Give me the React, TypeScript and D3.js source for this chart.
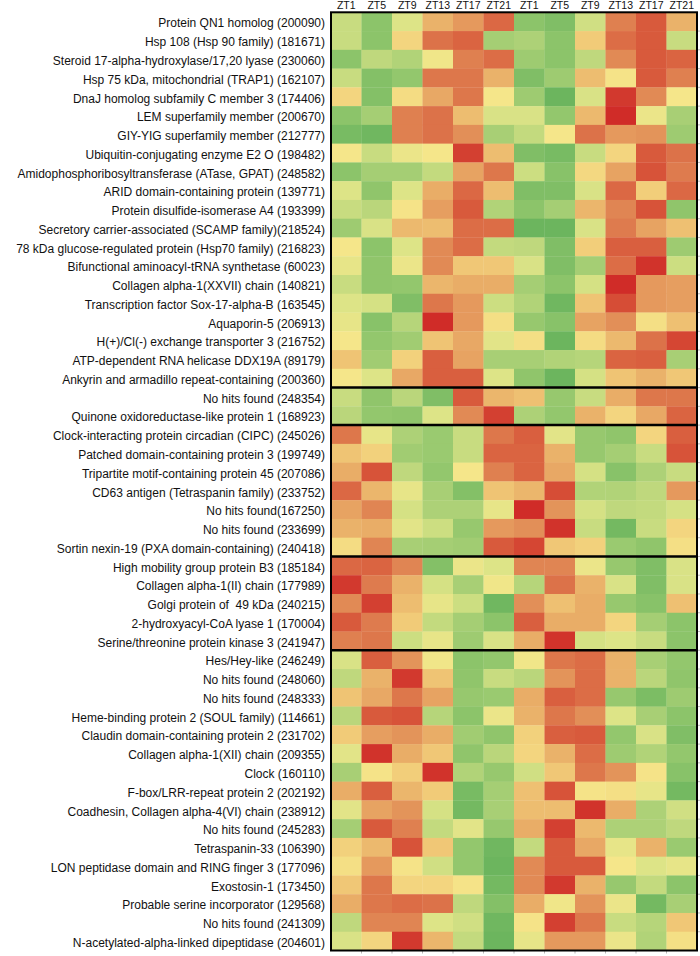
import React, { useEffect, useRef } from 'react';
import * as d3 from 'd3';

const columns = ['ZT1', 'ZT5', 'ZT9', 'ZT13', 'ZT17', 'ZT21', 'ZT1', 'ZT5', 'ZT9', 'ZT13', 'ZT17', 'ZT21'];

// expression level: ~1.5 = dark green, 5 = yellow, 9 = red
const group1Genes = [
  'Protein QN1 homolog (200090)',
  'Hsp 108 (Hsp 90 family) (181671)',
  'Steroid 17-alpha-hydroxylase/17,20 lyase (230060)',
  'Hsp 75 kDa, mitochondrial (TRAP1) (162107)',
  'DnaJ homolog subfamily C member 3 (174406)',
  'LEM superfamily member (200670)',
  'GIY-YIG superfamily member (212777)',
  'Ubiquitin-conjugating enzyme E2 O (198482)',
  'Amidophosphoribosyltransferase (ATase, GPAT) (248582)',
  'ARID domain-containing protein (139771)',
  'Protein disulfide-isomerase A4 (193399)',
  'Secretory carrier-associated (SCAMP family)(218524)',
  '78 kDa glucose-regulated protein (Hsp70 family) (216823)',
  'Bifunctional aminoacyl-tRNA synthetase (60023)',
  'Collagen alpha-1(XXVII) chain (140821)',
  'Transcription factor Sox-17-alpha-B (163545)',
  'Aquaporin-5 (206913)',
  'H(+)/Cl(-) exchange transporter 3 (216752)',
  'ATP-dependent RNA helicase DDX19A (89179)',
  'Ankyrin and armadillo repeat-containing (200360)',
];
const group1Values = [
  [4, 2.5, 4.5, 6.5, 7, 8, 2.5, 2.2, 4.2, 7.5, 8.3, 6.5],
  [4, 2.5, 5.5, 7.8, 8.1, 3.2, 3.4, 2.5, 5.8, 7.9, 8.3, 4],
  [2.5, 3.8, 3.5, 4.9, 7.5, 7.9, 3, 2.5, 3.8, 7.3, 8.3, 8.1],
  [4, 2.3, 2.7, 7.7, 7.7, 6.5, 2.2, 3, 6.2, 5.1, 8.3, 7.5],
  [5.5, 2.3, 5.3, 6.7, 7.7, 5, 3, 1.7, 4.4, 8.8, 7.3, 5],
  [2.5, 3.2, 7.5, 7.8, 6.2, 4.4, 4.4, 2.7, 6.3, 9, 4.8, 3.3],
  [2, 1.8, 7.5, 7.8, 7.2, 3.3, 3.9, 5, 7.8, 7, 7.1, 3],
  [5, 4, 4.8, 5, 8.7, 6.2, 2.2, 2, 4, 5.5, 8.3, 7.8],
  [2.5, 3.2, 3.2, 3.9, 6.8, 7.7, 4.1, 2.4, 5.4, 6.8, 8.4, 7.6],
  [4.5, 2.6, 4.5, 6.6, 8, 6.2, 2.2, 2.2, 4.4, 8, 5.7, 8],
  [4, 3.7, 5.1, 6.9, 8.3, 3.5, 2.5, 3.2, 6.4, 7.4, 8.4, 2.6],
  [3, 4.4, 6.3, 6.2, 7.9, 7.9, 1.7, 1.7, 4.4, 7.6, 6.8, 6.1],
  [5, 2.5, 4.5, 7.3, 7.9, 3.9, 3.8, 2.2, 5.7, 8.2, 8.2, 3],
  [4.7, 2.6, 4.8, 7.3, 5.9, 5.9, 4.4, 2.2, 3.2, 7.9, 8.9, 4.1],
  [4, 2.6, 2.7, 6.4, 6.6, 6.6, 3.2, 2.5, 4.3, 9, 7, 6.9],
  [4.5, 4.3, 2.2, 7.7, 7, 4.1, 3.5, 1.8, 6, 8.5, 7, 6.9],
  [4.7, 2.4, 3.6, 9, 7, 5.2, 2.8, 2.4, 6.8, 7.2, 5.2, 6.1],
  [5, 2.7, 3.1, 6, 6.7, 4.6, 5.2, 1.7, 5.3, 6.3, 7.8, 8.6],
  [6, 3.1, 5.6, 8.2, 6.8, 3.3, 3.3, 3.5, 3.6, 8.1, 8.2, 3.3],
  [5, 4.5, 6.7, 8.2, 8.2, 4.5, 2.6, 1.5, 4.3, 6, 6.5, 5.9],
];

const group2Genes = ['No hits found (248354)', 'Quinone oxidoreductase-like protein 1 (168923)'];
const group2Values = [
  [4, 2.6, 3.7, 2.2, 8.3, 6.4, 6.1, 2.8, 4, 6.6, 7.7, 7.7],
  [3.7, 2.7, 2.6, 4.5, 7.3, 8.7, 3.4, 2.7, 6.5, 5.5, 6.7, 8.1],
];

const group3Genes = [
  'Clock-interacting protein circadian (CIPC) (245026)',
  'Patched domain-containing protein 3 (199749)',
  'Tripartite motif-containing protein 45 (207086)',
  'CD63 antigen (Tetraspanin family) (233752)',
  'No hits found(167250)',
  'No hits found (233699)',
  'Sortin nexin-19 (PXA domain-containing) (240418)',
];
const group3Values = [
  [7.7, 4.7, 3.4, 2.9, 4, 7.7, 8.2, 4.6, 2.8, 2.6, 5.5, 8.2],
  [6, 5.6, 3.1, 2.9, 4, 8.1, 8.1, 6.5, 2.8, 3.2, 4, 8.4],
  [6.6, 8.4, 3.8, 2.7, 5, 7.5, 8.1, 6.7, 4.3, 2.4, 3.4, 4],
  [8, 6.4, 4.7, 3.3, 2.3, 6, 6.4, 8.5, 3.5, 3.5, 3.8, 7],
  [6.8, 7.4, 4.3, 3.4, 3.4, 4.7, 9, 7.1, 4.3, 3.8, 3.9, 4.3],
  [6.5, 6.6, 4.6, 4.1, 2.8, 7, 7.2, 8.9, 4, 1.9, 4, 5.5],
  [5.3, 7.4, 3.3, 3.2, 3.1, 8.3, 8.6, 5.9, 5.6, 2.9, 2.6, 5.2],
];

const group4Genes = [
  'High mobility group protein B3 (185184)',
  'Collagen alpha-1(II) chain (177989)',
  'Golgi protein of  49 kDa (240215)',
  '2-hydroxyacyl-CoA lyase 1 (170004)',
  'Serine/threonine protein kinase 3 (241947)',
];
const group4Values = [
  [8, 8.1, 7.4, 2.3, 4.8, 4.5, 7.4, 7.4, 4.8, 2.8, 2.2, 4.4],
  [8.8, 7.6, 6.5, 4.3, 3.3, 4.9, 3.6, 7.8, 6.5, 4.4, 2.2, 4.4],
  [7.3, 8.7, 6.2, 4.7, 4.1, 1.8, 7.2, 6.1, 6.6, 2.8, 2.4, 6.1],
  [8.3, 7.6, 5.8, 3.9, 3.2, 2.5, 8.2, 6.6, 6.6, 5.5, 3.2, 2.5],
  [7.5, 7.7, 4.1, 4.7, 3, 4.4, 6.6, 8.9, 4.3, 4.5, 4, 2.5],
];

const group5Genes = [
  'Hes/Hey-like (246249)',
  'No hits found (248060)',
  'No hits found (248333)',
  'Heme-binding protein 2 (SOUL family) (114661)',
  'Claudin domain-containing protein 2 (231702)',
  'Collagen alpha-1(XII) chain (209355)',
  'Clock (160110)',
  'F-box/LRR-repeat protein 2 (202192)',
  'Coadhesin, Collagen alpha-4(VI) chain (238912)',
  'No hits found (245283)',
  'Tetraspanin-33 (106390)',
  'LON peptidase domain and RING finger 3 (177096)',
  'Exostosin-1 (173450)',
  'Probable serine incorporator (129568)',
  'No hits found (241309)',
  'N-acetylated-alpha-linked dipeptidase (204601)',
];
const group5Values = [
  [4.4, 8.2, 7.1, 4.9, 2.5, 2.7, 4.9, 7.7, 7.9, 6.5, 3.3, 2.7],
  [3.8, 6.5, 8.8, 6, 2.6, 4, 3.7, 7.1, 7.9, 6.5, 3.7, 2.6],
  [6, 6.7, 7.7, 6.8, 2.8, 2.9, 6.6, 8.2, 7.9, 2.8, 2.1, 3],
  [3.7, 8.3, 8.4, 3.6, 2.5, 4.8, 6.5, 7.7, 7.2, 4.5, 3.3, 2.5],
  [5.8, 6.9, 7.1, 6.6, 3.1, 2.6, 5.6, 8.2, 8.3, 2.7, 4.4, 2.2],
  [4.6, 8.9, 6.6, 5.9, 2.6, 3.7, 5.5, 6.5, 7.9, 3, 3.5, 2.7],
  [3.3, 5.1, 5.7, 8.9, 3.5, 2.8, 4.2, 5.9, 7.7, 7.1, 5.1, 2.4],
  [6.6, 8.2, 6.4, 5.8, 2, 3.2, 6.1, 8.4, 5.1, 5.2, 4.7, 1.9],
  [4.6, 6.8, 7.1, 4.3, 1.9, 3.3, 6.2, 6.2, 8.9, 6.6, 3.4, 4.2],
  [3.2, 8.3, 7.5, 3.9, 4.6, 2.8, 6.6, 8.7, 6.3, 3.4, 3.4, 3.8],
  [5.6, 6.3, 8.4, 5.9, 2.7, 1.8, 3.9, 8.3, 6.7, 4.7, 6.5, 2.9],
  [5.2, 7, 5.1, 4.2, 2.7, 1.7, 7.3, 8.3, 8.3, 5, 4.5, 4.7],
  [5.9, 7.7, 5.5, 5.5, 5.1, 1.9, 7.3, 8.8, 6.5, 2.8, 3.9, 2.5],
  [6.6, 7.7, 7.9, 7.8, 3.8, 2.3, 6.6, 4.9, 7.1, 4.8, 1.9, 3.3],
  [3.8, 7.4, 7.4, 4.5, 4.2, 1.8, 5.1, 8.7, 7.7, 4, 3.6, 5.9],
  [4.4, 5.5, 8.8, 6.4, 3.9, 1.6, 4.7, 7, 7, 4.8, 3.5, 5.2],
];

const groups = [
  { genes: group1Genes, values: group1Values },
  { genes: group2Genes, values: group2Values },
  { genes: group3Genes, values: group3Values },
  { genes: group4Genes, values: group4Values },
  { genes: group5Genes, values: group5Values },
];

const Heatmap = () => {
  const ref = useRef<SVGSVGElement>(null);

  useEffect(() => {
    const svg = d3.select(ref.current);
    svg.selectAll('*').remove();

    const left = 331;
    const right = 697;
    const top = 12.3;
    const bottom = 950.5;

    const genes = groups.flatMap((g) => g.genes);
    const rows = groups.flatMap((g) => g.values);
    // row index where each group ends (for the thick black separators)
    const breaks: number[] = [];
    let acc = 0;
    groups.forEach((g) => {
      acc += g.genes.length;
      breaks.push(acc);
    });

    const x = d3.scaleBand<number>().domain(d3.range(columns.length)).range([left, right]);
    const y = d3.scaleBand<number>().domain(d3.range(genes.length)).range([top, bottom]);

    const color = d3
      .scaleLinear<string>()
      .domain([1.7, 2.5, 3.3, 4, 4.5, 5, 5.7, 6.5, 7.5, 8.3, 9])
      .range(['#6cb55e', '#8cc46a', '#a8cf75', '#c8dc80', '#dde487', '#f5e68a', '#f2ce7a', '#eab26a', '#df8050', '#d85a3c', '#d02c28'])
      .clamp(true);

    const cells = svg
      .append('g')
      .selectAll('g')
      .data(rows)
      .enter()
      .append('g')
      .attr('transform', (d, i) => `translate(0,${y(i)})`);

    cells
      .selectAll('rect')
      .data((d) => d)
      .enter()
      .append('rect')
      .attr('x', (d, j) => x(j)!)
      .attr('width', x.bandwidth() + 0.3)
      .attr('height', y.bandwidth() + 0.3)
      .attr('fill', (d) => color(d));

    // column headers
    const topAxis = svg
      .append('g')
      .attr('transform', `translate(0,${top})`)
      .call(d3.axisTop(x).tickSize(0).tickPadding(3.5).tickFormat((j) => columns[j]));
    topAxis.select('.domain').remove();
    topAxis.selectAll('text').style('font-family', 'Arial, "Liberation Sans", sans-serif').style('font-size', '10.5px').attr('fill', '#111');

    // gene labels
    const leftAxis = svg
      .append('g')
      .attr('transform', `translate(${left},0)`)
      .call(d3.axisLeft(y).tickSize(0).tickPadding(6).tickFormat((i) => genes[i]));
    leftAxis.select('.domain').remove();
    leftAxis
      .selectAll('text')
      .attr('dy', '0.48em')
      .style('font-family', 'Arial, "Liberation Sans", sans-serif')
      .style('font-size', '12px')
      .style('white-space', 'pre')
      .attr('fill', '#111');

    // small grey ticks along right and bottom edges
    svg
      .append('g')
      .selectAll('line')
      .data(d3.range(1, genes.length))
      .enter()
      .append('line')
      .attr('x1', right)
      .attr('x2', right + 3)
      .attr('y1', (i) => y(i)!)
      .attr('y2', (i) => y(i)!)
      .attr('stroke', '#999')
      .attr('stroke-width', 0.7);
    svg
      .append('g')
      .selectAll('line')
      .data(d3.range(1, columns.length))
      .enter()
      .append('line')
      .attr('x1', (j) => x(j)!)
      .attr('x2', (j) => x(j)!)
      .attr('y1', bottom)
      .attr('y2', bottom + 3)
      .attr('stroke', '#999')
      .attr('stroke-width', 0.7);

    // group separators
    svg
      .append('g')
      .selectAll('line')
      .data(breaks.slice(0, -1))
      .enter()
      .append('line')
      .attr('x1', left)
      .attr('x2', right)
      .attr('y1', (b) => y(b)!)
      .attr('y2', (b) => y(b)!)
      .attr('stroke', '#000')
      .attr('stroke-width', 2.5);

    svg
      .append('rect')
      .attr('x', left)
      .attr('y', top)
      .attr('width', right - left)
      .attr('height', bottom - top)
      .attr('fill', 'none')
      .attr('stroke', '#000')
      .attr('stroke-width', 2);
  }, []);

  return <svg ref={ref} width={700} height={956} style={{ position: 'absolute', left: 0, top: 0, background: '#fff' }} />;
};

export default function App() {
  return <Heatmap />;
}
